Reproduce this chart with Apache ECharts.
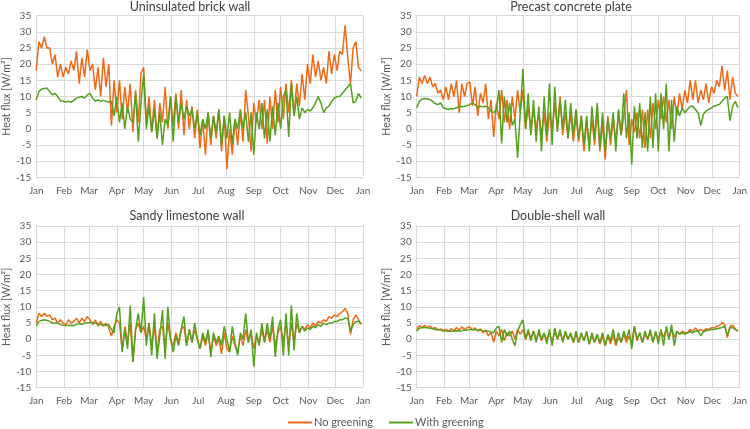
<!DOCTYPE html>
<html>
<head>
<meta charset="utf-8">
<script src="https://cdn.jsdelivr.net/npm/echarts@6/dist/echarts.min.js"></script>
<style>html,body{margin:0;padding:0;background:#fff}#c{width:750px;height:429px}</style>
</head>
<body>
<div id="c"></div>
<script>
// Month ticks (day of year) and labels
const monthStarts = [0,31,59,90,120,151,181,212,243,273,304,334,365];
const monthLabels = ['Jan','Feb','Mar','Apr','May','Jun','Jul','Aug','Sep','Oct','Nov','Dec','Jan'];
const yTicks = [-15,-10,-5,0,5,10,15,20,25,30,35];
const panelTitles = ['Uninsulated brick wall','Precast concrete plate','Sandy limestone wall','Double-shell wall'];
const seriesNames = ['No greening','With greening'];
// sample step in days (values read every 3 days, alternating upper/lower envelope)
const stepDays = 3;

// Uninsulated brick wall
const brickNo = [18,27,25,28.5,25,25,20,23,16,20,16,
  19,17,21,18,24,14,22,16,24.5,
  18,20,12,19,10,22,13,20,1,15,
  5,15,3,13,5,14,-1,12,2,17,
  19,2,10,-1,9,-3,8,2,13,0,10,
  1,11,0,12,-2,9,0,7,-3,6,
  -6,3,-8,5,-5,4,-3,6,-7,4,
  -12.5,0,-8,3,-5,5,-4,12,4,-7,
  8,2,9,0,9,-4.5,10,0,12,2,
  13,3,14,5,15,4,14,7,17,9,20,
  14,23,16,21,15,19,14,24,17,23,
  18,24,23,32,22,14,25,27,19,18];
const brickWith = [9,11.5,12.3,12.5,12.6,11.5,10.5,11,10,8.7,8.5,
  8.3,8.5,8.2,8.8,9.5,9.8,10,9.5,10.5,
  11,9.5,8.5,9,8.5,8.8,8.5,8.3,8.5,4,
  10,2,8,0,7,3,2,11,-4,8,
  17,0,7,-1,6,-3,5,-5,3,1,10,
  -4,10,2,8,3,7,4,6,0,5,
  -2,3,0,5,-3,4,-1,6,-5,4,
  -3,5,-5,3,0,6,0,5,-4,5,
  -8,5,0,8,-3,6,-4,7,-2,8,
  0,10,12,-2.5,14,4,10,3,6.5,5,6,
  5.5,6.5,8,10,8,5,6.5,7,8.5,9.5,
  10,10,11,12,13,14,8,8.5,11,9.5];

// Precast concrete plate
const precastNo = [10,16,14,16.5,14,16,13,14,11,12,9,
  13,9,14,10,15,5,14,10,14,
  14.5,7,13,4,11,8,14,3,9,-2.5,
  8,3,12,2,9,0,10,3,12,5,
  12,0,7,-1,6,0,5,-2,5,-4,5,
  -1,8,0,10,-2,5,-3,5,-4,4,
  -4,4,-7,2,-5,3,-5,6,-7,2,
  -9.5,4,-5,3,-4,5,-2,4,12,-5,
  3,-1,5,-3,6,-6,6,-3,8,0,
  9,3,10,2,9,0,10,4,11,6,12,
  8,15,9,15,8,12,9,14,8,13,
  11,15,13,19.5,12,18,9,16,11,10];
const precastWith = [6.5,8.5,9.2,9.4,9.3,9,8.5,7.8,7.5,8,6.5,
  6.2,6,6.3,6.2,6.5,7,6.8,7,7.2,
  7.5,8,7.5,6.5,7,6.8,7,6.5,5.5,5,
  6,12,-4.5,10,2,8,1,3,-9,5,
  18.5,0,11,-2,9,-4,7,-7,10,-2,14,
  -5,13,-1,9,0,9,-3,8,-2,6,
  -3,4,-5,4,-7,7,-3,8,-6,5,
  -7,3,-3,5,-7,6,-2,11,-3,5,
  -11,7,-3,8,-6,5,-7,10,-6,11,
  -7,11,0,14,-7,9,-4,7,4,6.5,5,
  6,7,7,6,5,1,4.5,5.5,6,6.5,
  7,7.3,7.5,8.5,9.5,10,2.5,7,8.5,6.5];

// Sandy limestone wall
const sandyNo = [5,8,7,8,7,7.5,6,6.5,5,6,5,
  4.5,6,5,5.5,6.5,5,6.5,5.5,7,
  6,4.5,6,4,5.5,4,5,3.5,1,4,
  6,5,-3.5,4,-1,5,-7,3,5,2,
  4,0,5,-2,4,-4,3,4,-3,5,0,
  -2,2,-1,3,4,-2,3,-1,3,0,
  -3,1,-2,2,-4,1,-2,0,-4.5,2,
  -3,-4,1,-2,-4,1,-2,3,-1,2,
  -3,1,-1.5,3,-1,3,-1,4,-2,2,
  4,-1,5,-2,5,-1,5,2,4,3,4.5,
  3.5,5,4,5.5,5,6,5.5,7,6.5,7.5,
  7,8,8.5,9.5,8,1.5,6,7.5,6,4.5];
const sandyWith = [4,5.5,5.8,6,5.8,5.5,5,5,5,4.5,4.3,
  4.2,4.2,4.3,4.2,4.5,4.8,4.6,5,5,
  5.2,5,5,4.8,4.5,4.5,4.3,4.5,3,2,
  8,10,-4,3,-3,10.5,-7,3,8,2,
  13,-2,5,-5,8,-6,1,9,-6,10,0,
  -4,1,-2,3,7,-2,3,-1,5,0,
  -3,2,-1,3,-5.5,2,-1,1,-2,4,
  0,-4,4,-1,-5,2,0,8,-1,3,
  -8.5,2,-2,5,-1,5,0,7,-5.5,3,
  6,-5,8,-5,10.5,-3.5,8,2,4,2.5,3.5,
  3,4,3.5,4.5,4,5,4.5,5,5,5.5,
  5.5,6,6,6.5,6.5,2.5,4.5,5.5,5.5,4.8];

// Double-shell wall
const doubleNo = [3,4.2,3.5,4.3,3.6,4,3.3,3.6,2.8,3.2,2.6,
  3,2.5,3.2,2.6,3.6,2.8,3.8,3,3.6,
  3.8,2.8,3.5,2.5,3.2,2,2.8,1,2.2,-1,
  2.5,1,3,-0.5,2,1,2.5,0,3,1.5,
  3,0,2,0.5,2.5,0,2,-0.5,1.5,0,2,
  -1,2.5,0,2,-0.5,2,0,1.5,-1,1.5,
  -1,1.5,-0.5,2,-1.5,1,-1,1.5,-1.5,1,
  -2,1,-1.5,1.5,-2,0.5,-1,1.5,-1,1,
  -1,4,-0.5,2,-1,1.5,0,2,-1,2,
  0,2.5,0.5,3,0,3,0.5,2.5,1.5,2.5,2,
  2,3,2.5,3.5,2.5,3,2.5,3.2,3,3.5,
  3.5,4,4.2,5.2,4.5,0.5,4,4.3,3.2,2.5];
const doubleWith = [2.5,3.3,3.6,3.6,3.5,3.4,3.2,3,3,2.8,2.6,
  2.5,2.5,2.4,2.5,2.6,2.5,2.6,2.8,2.8,
  3,3,2.9,2.8,2.8,2.6,2.5,2.5,2.2,2,
  3.5,4,-1,3,1,2.5,0,-2,2.5,4.5,
  6,0,3,-0.5,2.5,-1,3,0,2,-1.5,3,
  -2,3.5,0,3,-1,2.5,0,2,-1,2.5,
  -1,2,-0.5,2.5,-1.5,2,-1,1.5,-1,2,
  -2,1.5,-0.5,3,-1.5,2,-1,2.5,0,3,
  -3,4,0,2,-1,2.5,0,3,-1,2.5,
  -1.5,3,-2,4,0,4.5,-2,2.5,1.5,2,1.5,
  2,2.3,2,2.5,2.6,1,2.3,2.6,2.8,3,
  3,3.2,3.4,3.6,4,1.2,3.5,3.6,3,2.5];

const panels = [
  {no: brickNo, with: brickWith},
  {no: precastNo, with: precastWith},
  {no: sandyNo, with: sandyWith},
  {no: doubleNo, with: doubleWith}
];

const ORANGE = '#EF6A17';
const GREEN = '#55A11F';
const GRID_COLOR = '#d9d9d9';
const TEXT_COLOR = '#595959';
const FONT = 'Lato, "Liberation Sans", sans-serif';

const gridPos = [
  {left: 35.7, width: 327.3, top: 15.7, height: 161.6},
  {left: 416.7, width: 326.6, top: 15.7, height: 161.6},
  {left: 35.7, width: 327.3, top: 226, height: 161.7},
  {left: 416.7, width: 326.6, top: 226, height: 161.7}
];
const titlePos = [{x: 190, y: 7}, {x: 571, y: 7}, {x: 187, y: 216}, {x: 558, y: 216}];

function toPairs(vals) {
  return vals.map((v, i) => [i * stepDays, v]);
}

const option = {
  animation: false,
  backgroundColor: '#ffffff',
  textStyle: {fontFamily: FONT},
  title: panelTitles.map((t, k) => ({
    text: t,
    left: titlePos[k].x,
    top: titlePos[k].y,
    textAlign: 'center',
    textVerticalAlign: 'middle',
    padding: 0,
    textStyle: {fontSize: 12.5, fontWeight: 'normal', color: '#404040', fontFamily: FONT}
  })),
  legend: {
    left: 283,
    top: 412,
    itemWidth: 24,
    itemHeight: 2,
    itemGap: 16,
    icon: 'rect',
    textStyle: {fontSize: 11, color: TEXT_COLOR, fontFamily: FONT, padding: [0, 0, 0, -3]},
    data: seriesNames
  },
  grid: gridPos.map(g => Object.assign({containLabel: false}, g)),
  xAxis: gridPos.map((g, k) => ({
    type: 'value',
    gridIndex: k,
    min: 0,
    max: 365,
    axisLine: {show: false},
    axisTick: {show: false, customValues: monthStarts},
    splitLine: {show: true, lineStyle: {color: GRID_COLOR, width: 1}},
    axisLabel: {
      customValues: monthStarts,
      formatter: v => monthLabels[monthStarts.indexOf(v)] || '',
      color: TEXT_COLOR,
      fontSize: 10,
      margin: 8,
      fontFamily: FONT
    }
  })),
  yAxis: gridPos.map((g, k) => ({
    type: 'value',
    gridIndex: k,
    min: yTicks[0],
    max: yTicks[yTicks.length - 1],
    interval: 5,
    name: 'Heat flux [W/m²]',
    nameLocation: 'middle',
    nameGap: 24,
    nameTextStyle: {fontSize: 10.5, color: TEXT_COLOR, fontFamily: FONT},
    axisLine: {show: true, lineStyle: {color: GRID_COLOR}},
    axisTick: {show: false},
    splitLine: {show: true, lineStyle: {color: GRID_COLOR, width: 1}},
    axisLabel: {color: TEXT_COLOR, fontSize: 10, margin: 5, fontFamily: FONT}
  })),
  series: []
};

panels.forEach((p, k) => {
  option.series.push({
    name: seriesNames[0], type: 'line', xAxisIndex: k, yAxisIndex: k,
    data: toPairs(p.no), symbol: 'none', showSymbol: false,
    lineStyle: {color: ORANGE, width: 1.5}, itemStyle: {color: ORANGE}, z: 2
  });
  option.series.push({
    name: seriesNames[1], type: 'line', xAxisIndex: k, yAxisIndex: k,
    data: toPairs(p.with), symbol: 'none', showSymbol: false,
    lineStyle: {color: GREEN, width: 1.5}, itemStyle: {color: GREEN}, z: 3
  });
});

const chart = echarts.init(document.getElementById('c'), null, {renderer: 'canvas'});
chart.setOption(option);
</script>
</body>
</html>
